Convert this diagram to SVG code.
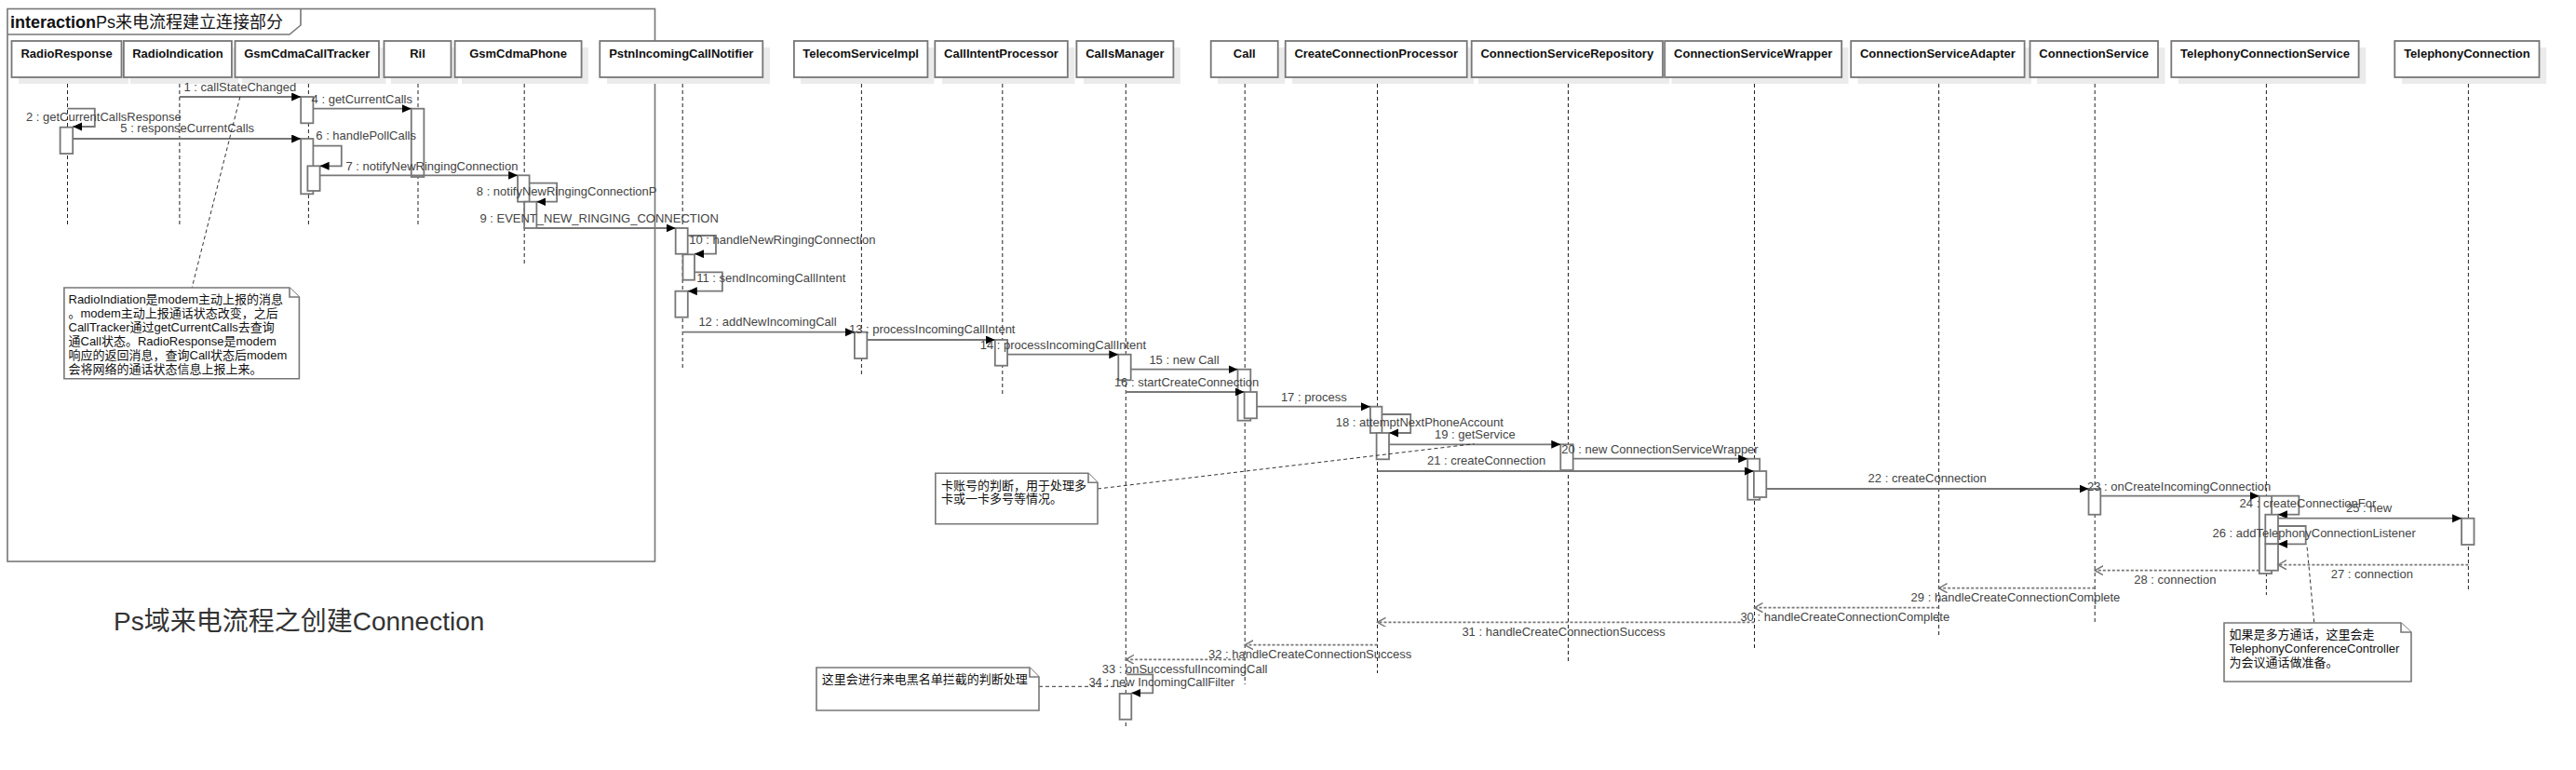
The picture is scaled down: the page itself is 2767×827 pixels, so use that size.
<svg xmlns="http://www.w3.org/2000/svg" width="2767" height="827" viewBox="0 0 2767 827">
<style>
.bg{fill:#fff}
.frame{fill:none;stroke:#777;stroke-width:1.6}
.head{fill:#fff;stroke:#777;stroke-width:1.8}
.shadow{fill:#ebebeb}
.htxt{font-family:"Liberation Sans",Arial,sans-serif;font-size:13px;font-weight:bold;fill:#111;text-anchor:middle}
.life{stroke:#222;stroke-width:1;stroke-dasharray:4,3;fill:none}
.act{fill:#fff;stroke:#777;stroke-width:1.8}
.msg{stroke:#777;stroke-width:1.8;fill:none;marker-end:url(#fa)}
.ret{stroke:#777;stroke-width:1.8;fill:none;stroke-dasharray:3,2;marker-end:url(#oa)}
.lbl{font-family:"Liberation Sans",Arial,sans-serif;font-size:13px;fill:#444}
.note{fill:#fff;stroke:#777;stroke-width:1.6}
.ntxt{font-family:"Liberation Sans","Noto Sans CJK SC",sans-serif;font-size:13px;fill:#111}
.nlink{stroke:#333;stroke-width:1;stroke-dasharray:4,3;fill:none}
.title{font-family:"Liberation Sans","Noto Sans CJK SC",sans-serif;font-size:28px;fill:#333}
</style>
<defs>
<marker id="fa" markerUnits="userSpaceOnUse" markerWidth="11" markerHeight="10" refX="10" refY="4.5" orient="auto"><path d="M0,0 L10,4.5 L0,9 z" fill="#000"/></marker>
<marker id="oa" markerUnits="userSpaceOnUse" markerWidth="11" markerHeight="12" refX="9" refY="5" orient="auto"><path d="M0,0 L9,5 L0,10" fill="none" stroke="#777" stroke-width="1.5"/></marker>
</defs>
<rect class="bg" x="0" y="0" width="2767" height="827"/>

<g id="frame">
<rect class="frame" x="8" y="9.5" width="695.5" height="593.5"/>
<path class="frame" d="M8,37 H311 L323,27 V9.5"/>
<text x="11" y="30" font-family="Liberation Sans,'Noto Sans CJK SC',sans-serif" font-size="18" fill="#111"><tspan font-weight="bold">interaction</tspan>Ps来电流程建立连接部分</text>
</g>

<g id="lifelines">
<line class="life" x1="72.5" y1="83" x2="72.5" y2="243"/>
<line class="life" x1="192.9" y1="83" x2="192.9" y2="243"/>
<line class="life" x1="331.4" y1="83" x2="331.4" y2="243"/>
<line class="life" x1="449" y1="83" x2="449" y2="243"/>
<line class="life" x1="563.2" y1="83" x2="563.2" y2="285"/>
<line class="life" x1="733.2" y1="83" x2="733.2" y2="398"/>
<line class="life" x1="925.4" y1="83" x2="925.4" y2="405"/>
<line class="life" x1="1076.8" y1="83" x2="1076.8" y2="423"/>
<line class="life" x1="1209.3" y1="83" x2="1209.3" y2="783"/>
<line class="life" x1="1337.2" y1="83" x2="1337.2" y2="735"/>
<line class="life" x1="1479.5" y1="83" x2="1479.5" y2="723"/>
<line class="life" x1="1684.5" y1="83" x2="1684.5" y2="712"/>
<line class="life" x1="1884.5" y1="83" x2="1884.5" y2="699"/>
<line class="life" x1="2082.6" y1="83" x2="2082.6" y2="682"/>
<line class="life" x1="2250.2" y1="83" x2="2250.2" y2="670"/>
<line class="life" x1="2434.4" y1="83" x2="2434.4" y2="639"/>
<line class="life" x1="2651.4" y1="83" x2="2651.4" y2="634"/>
</g>

<g id="RadioResponse"><rect class="shadow" x="20" y="51" width="118" height="39"/><rect class="head" x="12.5" y="44" width="118" height="39"/><text class="htxt" x="71.5" y="62">RadioResponse</text></g>
<g id="RadioIndication"><rect class="shadow" x="140" y="51" width="116" height="39"/><rect class="head" x="132.9" y="44" width="116" height="39"/><text class="htxt" x="190.9" y="62">RadioIndication</text></g>
<g id="GsmCdmaCallTracker"><rect class="shadow" x="260" y="51" width="154.5" height="39"/><rect class="head" x="252.5" y="44" width="154.5" height="39"/><text class="htxt" x="329.8" y="62">GsmCdmaCallTracker</text></g>
<g id="Ril"><rect class="shadow" x="420" y="51" width="72" height="39"/><rect class="head" x="412.5" y="44" width="72" height="39"/><text class="htxt" x="448.5" y="62">Ril</text></g>
<g id="GsmCdmaPhone"><rect class="shadow" x="496" y="51" width="136" height="39"/><rect class="head" x="488.6" y="44" width="136" height="39"/><text class="htxt" x="556.6" y="62">GsmCdmaPhone</text></g>
<g id="PstnIncomingCallNotifier"><rect class="shadow" x="652" y="51" width="175" height="39"/><rect class="head" x="644.3" y="44" width="175" height="39"/><text class="htxt" x="731.8" y="62">PstnIncomingCallNotifier</text></g>
<g id="TelecomServiceImpl"><rect class="shadow" x="860" y="51" width="143.5" height="39"/><rect class="head" x="852.9" y="44" width="143.5" height="39"/><text class="htxt" x="924.6" y="62">TelecomServiceImpl</text></g>
<g id="CallIntentProcessor"><rect class="shadow" x="1012" y="51" width="142.5" height="39"/><rect class="head" x="1004.3" y="44" width="142.5" height="39"/><text class="htxt" x="1075.5" y="62">CallIntentProcessor</text></g>
<g id="CallsManager"><rect class="shadow" x="1164" y="51" width="104" height="39"/><rect class="head" x="1156.4" y="44" width="104" height="39"/><text class="htxt" x="1208.4" y="62">CallsManager</text></g>
<g id="Call"><rect class="shadow" x="1308" y="51" width="72" height="39"/><rect class="head" x="1300.7" y="44" width="72" height="39"/><text class="htxt" x="1336.7" y="62">Call</text></g>
<g id="CreateConnectionProcessor"><rect class="shadow" x="1388" y="51" width="195" height="39"/><rect class="head" x="1380.7" y="44" width="195" height="39"/><text class="htxt" x="1478.2" y="62">CreateConnectionProcessor</text></g>
<g id="ConnectionServiceRepository"><rect class="shadow" x="1588" y="51" width="205.3" height="39"/><rect class="head" x="1580.7" y="44" width="205.3" height="39"/><text class="htxt" x="1683.3" y="62">ConnectionServiceRepository</text></g>
<g id="ConnectionServiceWrapper"><rect class="shadow" x="1795.5" y="51" width="190" height="39"/><rect class="head" x="1788.2" y="44" width="190" height="39"/><text class="htxt" x="1883.2" y="62">ConnectionServiceWrapper</text></g>
<g id="ConnectionServiceAdapter"><rect class="shadow" x="1995.5" y="51" width="186.4" height="39"/><rect class="head" x="1988.2" y="44" width="186.4" height="39"/><text class="htxt" x="2081.4" y="62">ConnectionServiceAdapter</text></g>
<g id="ConnectionService"><rect class="shadow" x="2188" y="51" width="137.5" height="39"/><rect class="head" x="2180.5" y="44" width="137.5" height="39"/><text class="htxt" x="2249.2" y="62">ConnectionService</text></g>
<g id="TelephonyConnectionService"><rect class="shadow" x="2340" y="51" width="201.3" height="39"/><rect class="head" x="2332.3" y="44" width="201.3" height="39"/><text class="htxt" x="2433" y="62">TelephonyConnectionService</text></g>
<g id="TelephonyConnection"><rect class="shadow" x="2580" y="51" width="155.2" height="39"/><rect class="head" x="2572.3" y="44" width="155.2" height="39"/><text class="htxt" x="2649.9" y="62">TelephonyConnection</text></g>

<g id="activations">
<rect class="act" x="64.6" y="136.7" width="13.6" height="28.3"/>
<rect class="act" x="323.2" y="104" width="13.2" height="28.3"/>
<rect class="act" x="323.2" y="149" width="13.2" height="59.3"/>
<rect class="act" x="330.4" y="178.3" width="13.2" height="26.7"/>
<rect class="act" x="441.8" y="116.7" width="13.6" height="73.3"/>
<rect class="act" x="556.1" y="188.3" width="12.5" height="28.4"/>
<rect class="act" x="563.2" y="216.7" width="13.2" height="28.3"/>
<rect class="act" x="725.7" y="245" width="13" height="27.7"/>
<rect class="act" x="733.5" y="273.3" width="12.5" height="27.4"/>
<rect class="act" x="725.4" y="312.7" width="13.4" height="28"/>
<rect class="act" x="917.9" y="356.7" width="13.4" height="28.3"/>
<rect class="act" x="1068.8" y="365" width="13.3" height="27.7"/>
<rect class="act" x="1201.3" y="380.7" width="13.4" height="27.6"/>
<rect class="act" x="1329.5" y="396.7" width="13.8" height="55"/>
<rect class="act" x="1336.6" y="421" width="13.4" height="28.3"/>
<rect class="act" x="1471.9" y="436.7" width="12.5" height="28.3"/>
<rect class="act" x="1478.6" y="465" width="13.4" height="28.3"/>
<rect class="act" x="1676.3" y="477.3" width="13.4" height="27.7"/>
<rect class="act" x="1877.2" y="492.7" width="13" height="44"/>
<rect class="act" x="1883.9" y="506" width="13.4" height="28"/>
<rect class="act" x="2243.5" y="525" width="12.8" height="27.7"/>
<rect class="act" x="2426.8" y="532.7" width="13.3" height="83.3"/>
<rect class="act" x="2433.3" y="552.7" width="13.7" height="31.6"/>
<rect class="act" x="2433.3" y="584.3" width="13.7" height="28.4"/>
<rect class="act" x="2644.1" y="556.7" width="13.4" height="28.3"/>
<rect class="act" x="1202.6" y="745" width="12.7" height="27.7"/>
</g>

<g id="connectors">
<line class="msg" x1="192.9" y1="104" x2="323.2" y2="104"/>
<text class="lbl" x="197.5" y="98">1 : callStateChanged</text>
<line class="msg" x1="336.4" y1="116.7" x2="441.8" y2="116.7"/>
<text class="lbl" x="334.6" y="111">4 : getCurrentCalls</text>
<path class="msg" d="M72.5,116.7 H101.8 V136 H78.2"/>
<text class="lbl" x="27.9" y="130">2 : getCurrentCallsResponse</text>
<line class="msg" x1="78.2" y1="149" x2="323.2" y2="149"/>
<text class="lbl" x="129.3" y="141.7">5 : responseCurrentCalls</text>
<path class="msg" d="M336.4,156.7 H366.8 V178.3 H343.6"/>
<text class="lbl" x="339.3" y="150">6 : handlePollCalls</text>
<line class="msg" x1="343.6" y1="188.3" x2="556.1" y2="188.3"/>
<text class="lbl" x="371.4" y="182.7">7 : notifyNewRingingConnection</text>
<path class="msg" d="M568.6,196.7 H598.2 V216.7 H576.4"/>
<text class="lbl" x="511.8" y="210">8 : notifyNewRingingConnectionP</text>
<line class="msg" x1="576.4" y1="245" x2="725.7" y2="245"/>
<text class="lbl" x="515.4" y="239">9 : EVENT_NEW_RINGING_CONNECTION</text>
<path class="msg" d="M738.7,253 H769 V272.7 H746"/>
<text class="lbl" x="740.2" y="262">10 : handleNewRingingConnection</text>
<path class="msg" d="M746,292.3 H775.9 V312.7 H738.8"/>
<text class="lbl" x="748.2" y="303.3">11 : sendIncomingCallIntent</text>
<line class="msg" x1="733.2" y1="356.7" x2="917.9" y2="356.7"/>
<text class="lbl" x="750.4" y="350">12 : addNewIncomingCall</text>
<line class="msg" x1="931.3" y1="365" x2="1068.8" y2="365"/>
<text class="lbl" x="912" y="358.3">13 : processIncomingCallIntent</text>
<line class="msg" x1="1082.1" y1="380.7" x2="1201.3" y2="380.7"/>
<text class="lbl" x="1052.7" y="375">14 : processIncomingCallIntent</text>
<line class="msg" x1="1214.7" y1="396.7" x2="1329.5" y2="396.7"/>
<text class="lbl" x="1234.4" y="390.7">15 : new Call</text>
<line class="msg" x1="1209.3" y1="421" x2="1336.6" y2="421"/>
<text class="lbl" x="1196.9" y="415">16 : startCreateConnection</text>
<line class="msg" x1="1350" y1="436.7" x2="1471.9" y2="436.7"/>
<text class="lbl" x="1375.9" y="430.7">17 : process</text>
<path class="msg" d="M1484.4,445 H1515.2 V465 H1492"/>
<text class="lbl" x="1434.8" y="458.3">18 : attemptNextPhoneAccount</text>
<line class="msg" x1="1492" y1="477.3" x2="1676.3" y2="477.3"/>
<text class="lbl" x="1541" y="470.7">19 : getService</text>
<line class="msg" x1="1689.7" y1="492.7" x2="1877.2" y2="492.7"/>
<text class="lbl" x="1677.2" y="486.7">20 : new ConnectionServiceWrapper</text>
<line class="msg" x1="1479.5" y1="506" x2="1883.9" y2="506"/>
<text class="lbl" x="1533" y="499.3">21 : createConnection</text>
<line class="msg" x1="1897.3" y1="525" x2="2243.5" y2="525"/>
<text class="lbl" x="2006.6" y="518.3">22 : createConnection</text>
<line class="msg" x1="2256.3" y1="532.7" x2="2426.8" y2="532.7"/>
<text class="lbl" x="2242" y="526.7">23 : onCreateIncomingConnection</text>
<path class="msg" d="M2440.1,532.7 H2469.4 V552.7 H2447"/>
<text class="lbl" x="2405.6" y="545">24 : createConnectionFor</text>
<line class="msg" x1="2447" y1="556.7" x2="2644.1" y2="556.7"/>
<text class="lbl" x="2520" y="549.5">25 : new</text>
<path class="msg" d="M2447,565 H2476.7 V584.3 H2447"/>
<text class="lbl" x="2376.5" y="577.3">26 : addTelephonyConnectionListener</text>
<line class="ret" x1="2651.4" y1="606.7" x2="2447" y2="606.7"/>
<text class="lbl" x="2503.8" y="620.7">27 : connection</text>
<line class="ret" x1="2426.8" y1="612.7" x2="2250.2" y2="612.7"/>
<text class="lbl" x="2292.2" y="626.7">28 : connection</text>
<line class="ret" x1="2250.2" y1="631.7" x2="2082.6" y2="631.7"/>
<text class="lbl" x="2052.6" y="646">29 : handleCreateConnectionComplete</text>
<line class="ret" x1="2082.6" y1="652.7" x2="1884.5" y2="652.7"/>
<text class="lbl" x="1869.4" y="667.3">30 : handleCreateConnectionComplete</text>
<line class="ret" x1="1884.5" y1="668.3" x2="1479.5" y2="668.3"/>
<text class="lbl" x="1570.4" y="682.7">31 : handleCreateConnectionSuccess</text>
<line class="ret" x1="1479.5" y1="692.7" x2="1337.2" y2="692.7"/>
<text class="lbl" x="1298" y="706.7">32 : handleCreateConnectionSuccess</text>
<line class="ret" x1="1337.2" y1="708.3" x2="1209.3" y2="708.3"/>
<text class="lbl" x="1183.7" y="722.7">33 : onSuccessfulIncomingCall</text>
<path class="msg" d="M1210.2,724.3 H1238.3 V744.3 H1215.3"/>
<text class="lbl" x="1169.4" y="737.3">34 : new IncomingCallFilter</text>
<line class="nlink" x1="257.9" y1="104" x2="206.2" y2="309"/>
<line class="nlink" x1="1179" y1="525" x2="1583.5" y2="476.7"/>
<line class="nlink" x1="1116" y1="737.3" x2="1210" y2="737.3" stroke-dasharray="2,2"/>
<line class="nlink" x1="2485.7" y1="668.3" x2="2477.8" y2="584.3"/>
</g>

<g id="note1">
<path class="note" d="M68.9,309 H311 L321.4,319 V406.7 H68.9 Z"/>
<path class="note" d="M311,309 V319 H321.4" fill="none"/>
<text class="ntxt" x="73.5" y="326">RadioIndiation是modem主动上报的消息</text>
<text class="ntxt" x="73.5" y="341">。modem主动上报通话状态改变，之后</text>
<text class="ntxt" x="73.5" y="356">CallTracker通过getCurrentCalls去查询</text>
<text class="ntxt" x="73.5" y="371">通Call状态。RadioResponse是modem</text>
<text class="ntxt" x="73.5" y="386">响应的返回消息，查询Call状态后modem</text>
<text class="ntxt" x="73.5" y="401">会将网络的通话状态信息上报上来。</text>
</g>
<g id="note2">
<path class="note" d="M1004.8,508.3 H1169 L1179,518.3 V562.7 H1004.8 Z"/>
<path class="note" d="M1169,508.3 V518.3 H1179" fill="none"/>
<text class="ntxt" x="1011" y="526">卡账号的判断，用于处理多</text>
<text class="ntxt" x="1011" y="540">卡或一卡多号等情况。</text>
</g>
<g id="note3">
<path class="note" d="M877,717 H1106 L1116,727 V763 H877 Z"/>
<path class="note" d="M1106,717 V727 H1116" fill="none"/>
<text class="ntxt" x="882.7" y="734">这里会进行来电黑名单拦截的判断处理</text>
</g>
<g id="note4">
<path class="note" d="M2389,669 H2579 L2590,679 V732 H2389 Z"/>
<path class="note" d="M2579,669 V679 H2590" fill="none"/>
<text class="ntxt" x="2394.6" y="686">如果是多方通话，这里会走</text>
<text class="ntxt" x="2394.6" y="700.7">TelephonyConferenceController</text>
<text class="ntxt" x="2394.6" y="715.7">为会议通话做准备。</text>
</g>

<g id="caption">
<text class="title" x="122" y="677">Ps域来电流程之创建Connection</text>
</g>
</svg>
